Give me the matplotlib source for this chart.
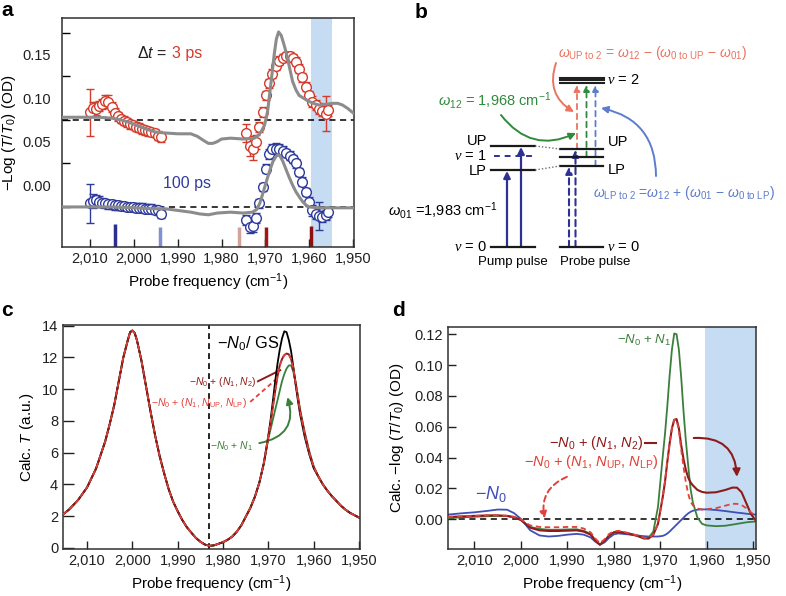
import numpy as np
import matplotlib
matplotlib.use('Agg')
import matplotlib.pyplot as plt
from matplotlib.patches import FancyArrowPatch

plt.rcParams['font.family'] = ['Liberation Sans', 'DejaVu Sans']
plt.rcParams['mathtext.fontset'] = 'custom'
plt.rcParams['mathtext.rm'] = 'Liberation Sans'
plt.rcParams['mathtext.it'] = 'Liberation Sans:italic'
plt.rcParams['mathtext.bf'] = 'Liberation Sans:bold'
plt.rcParams['mathtext.cal'] = 'Liberation Serif:italic'

# ---------------- data: panel a ----------------
f_grp1 = [2010.0, 2009.3, 2008.6, 2007.9, 2007.2, 2006.5, 2005.8, 2005.1, 2004.4, 2003.7, 2003.0, 2002.3,
          2001.6, 2000.9, 2000.2, 1999.5, 1998.8, 1998.1, 1997.4, 1996.7, 1996.0, 1995.3, 1994.6, 1993.9]
f_grp2 = [1974.4, 1973.6, 1972.9, 1972.1, 1971.4, 1970.6, 1969.8, 1969.1, 1968.4, 1967.6, 1966.8, 1966.1,
          1965.3, 1964.5, 1963.8, 1963.0, 1962.3, 1961.6, 1960.8, 1960.0, 1959.3, 1958.5, 1957.7, 1957.0,
          1956.3, 1955.8]
od3_grp1 = [0.084, 0.089, 0.088, 0.091, 0.093, 0.097, 0.096, 0.090, 0.083, 0.079, 0.076, 0.074,
            0.072, 0.070, 0.069, 0.067, 0.066, 0.064, 0.063, 0.062, 0.061, 0.060, 0.057, 0.055]
err3_grp1 = [0.027, 0.006, 0.007, 0.006, 0.006, 0.007, 0.007, 0.006, 0.006, 0.005, 0.005, 0.005,
             0.005, 0.005, 0.005, 0.005, 0.005, 0.005, 0.005, 0.005, 0.005, 0.005, 0.005, 0.005]
od3_grp2 = [0.060, 0.045, 0.041, 0.050, 0.067, 0.084, 0.103, 0.117, 0.128, 0.137, 0.143, 0.146,
            0.148, 0.148, 0.146, 0.142, 0.134, 0.124, 0.113, 0.103, 0.096, 0.092, 0.088, 0.085,
            0.082, 0.086]
err3_grp2 = [0.010, 0.012, 0.012, 0.008, 0.006, 0.006, 0.005, 0.005, 0.005, 0.005, 0.005, 0.005,
             0.005, 0.005, 0.005, 0.005, 0.005, 0.005, 0.005, 0.005, 0.006, 0.006, 0.006, 0.006,
             0.020, 0.006]
od100_grp1 = [-0.021, -0.018, -0.017, -0.019, -0.020, -0.021, -0.022, -0.022, -0.023, -0.023, -0.024, -0.024,
              -0.025, -0.025, -0.025, -0.026, -0.026, -0.026, -0.027, -0.027, -0.027, -0.028, -0.029, -0.033]
err100_grp1 = [0.022, 0.008, 0.006, 0.006, 0.005, 0.005, 0.005, 0.005, 0.005, 0.005, 0.005, 0.005,
               0.005, 0.005, 0.005, 0.005, 0.005, 0.005, 0.005, 0.005, 0.005, 0.005, 0.005, 0.005]
od100_grp2 = [-0.040, -0.048, -0.047, -0.038, -0.021, -0.002, 0.019, 0.036, 0.041, 0.042, 0.041, 0.039,
              0.037, 0.034, 0.030, 0.025, 0.015, 0.004, -0.008, -0.019, -0.029, -0.033, -0.035, -0.036,
              -0.034, -0.031]
err100_grp2 = [0.006, 0.007, 0.007, 0.006, 0.005, 0.005, 0.005, 0.006, 0.006, 0.006, 0.006, 0.006,
               0.005, 0.005, 0.005, 0.005, 0.005, 0.005, 0.005, 0.005, 0.006, 0.006, 0.016, 0.006,
               0.006, 0.006]
fit3_f = [2016.4, 2012, 2008, 2005, 2003, 2001, 1999, 1997, 1995, 1993, 1990, 1987, 1985.5, 1984, 1983,
          1982, 1981, 1980, 1978, 1975, 1972.5, 1971.5, 1970.8, 1970.2, 1969.5, 1968.7, 1968, 1967.5,
          1967, 1966.4, 1965.8, 1965.3, 1964.5, 1963.8, 1963, 1962.3, 1961, 1960, 1958.5, 1957.7,
          1956, 1954.7, 1953.5, 1952.4, 1951.2, 1950]
fit3_od = [0.078, 0.078, 0.078, 0.077, 0.075, 0.072, 0.068, 0.064, 0.061, 0.060, 0.059, 0.059, 0.056,
           0.051, 0.048, 0.048, 0.050, 0.053, 0.054, 0.053, 0.054, 0.058, 0.063, 0.069, 0.085, 0.119,
           0.150, 0.168, 0.176, 0.172, 0.162, 0.153, 0.135, 0.119, 0.109, 0.103, 0.099, 0.096, 0.093,
           0.092, 0.093, 0.094, 0.094, 0.092, 0.088, 0.083]
fit100_f = [2016.4, 2010, 2005, 2000, 1996, 1993, 1990, 1987, 1985, 1983, 1981, 1978, 1975, 1973, 1972,
            1971.3, 1970.5, 1969.8, 1969, 1968.3, 1967.6, 1967.1, 1966.6, 1966, 1965.3, 1964.5, 1963.8,
            1963, 1962.2, 1961.5, 1960.7, 1960, 1958, 1955, 1952, 1950]
fit100_od = [-0.025, -0.025, -0.025, -0.026, -0.027, -0.027, -0.029, -0.031, -0.033, -0.034, -0.032,
             -0.031, -0.032, -0.031, -0.028, -0.021, -0.008, 0.004, 0.017, 0.027, 0.033, 0.035, 0.033,
             0.027, 0.018, 0.008, 0.000, -0.008, -0.014, -0.019, -0.023, -0.025, -0.026, -0.026,
             -0.026, -0.026]
baseline_3ps = 0.075
baseline_100ps = -0.025
mark_f = [2004.3, 1994.0, 1976.1, 1969.8, 1959.6]
mark_top = [-0.0448, -0.048, -0.048, -0.048, -0.047]
mark_colors = ['#2b2f8f', '#8090d0', '#d2a39c', '#a01515', '#8b1010']
shade_a = (1959.5, 1954.8)

# ---------------- data: panel c ----------------
c_f_common_left = [2015.3, 2014, 2012, 2010, 2008, 2006, 2005, 2004, 2003, 2002, 2001, 2000.5, 2000, 1999.5,
                   1999, 1998, 1997, 1996, 1995, 1994, 1993, 1992, 1991, 1990, 1989, 1988, 1987, 1986,
                   1985, 1984, 1983, 1982, 1981, 1980, 1979, 1978, 1977, 1976]
c_T_common_left = [2.1, 2.4, 3.0, 3.8, 5.0, 6.7, 7.8, 9.0, 10.5, 12.0, 13.1, 13.6, 13.7, 13.55, 13.1, 11.8,
                   10.2, 8.6, 7.1, 5.8, 4.7, 3.7, 2.9, 2.3, 1.75, 1.3, 0.95, 0.62, 0.38, 0.2, 0.12, 0.15,
                   0.25, 0.35, 0.5, 0.7, 1.0, 1.4]
c_f_peak = [1975, 1974, 1973, 1972, 1971, 1970.5, 1970, 1969.5, 1969, 1968.5, 1968, 1967.5, 1967, 1966.5,
            1966, 1965.5, 1965, 1964.5, 1964, 1963.5, 1963, 1962, 1961, 1960]
c_T_gs = [1.95, 2.5, 3.2, 4.1, 5.35, 6.2, 7.1, 8.1, 9.3, 10.5, 11.6, 12.5, 13.2, 13.65, 13.6, 13.1, 12.4,
          11.4, 10.3, 9.3, 8.4, 7.0, 5.9, 5.0]
c_T_n1n2 = [1.95, 2.5, 3.2, 4.1, 5.35, 6.2, 7.05, 7.9, 8.9, 9.9, 10.8, 11.5, 11.9, 12.15, 12.25, 12.2, 11.9,
            11.3, 10.4, 9.5, 8.6, 7.2, 6.0, 5.1]
c_T_nupnlp = [1.95, 2.5, 3.2, 4.1, 5.35, 6.2, 7.05, 7.9, 8.9, 9.9, 10.8, 11.5, 11.9, 12.15, 12.25, 12.2,
              11.9, 11.3, 10.4, 9.5, 8.6, 7.2, 6.0, 5.1]
c_T_n1 = [1.95, 2.5, 3.2, 4.1, 5.3, 6.1, 6.9, 7.5, 8.1, 8.7, 9.3, 9.9, 10.5, 10.95, 11.3, 11.5, 11.5, 11.1,
          10.4, 9.6, 8.7, 7.3, 6.1, 5.1]
c_f_common_right = [1959, 1958, 1957, 1956, 1955, 1954, 1953, 1952, 1951, 1950]
c_T_common_right = [4.5, 4.0, 3.6, 3.25, 2.95, 2.65, 2.4, 2.2, 2.05, 1.9]
omega01 = 1983

# ---------------- data: panel d ----------------
d_f = [2015.7, 2013, 2010, 2007, 2005, 2003, 2001.5, 2000, 1999, 1998, 1996, 1994, 1992, 1990, 1988, 1986.5,
       1985, 1984, 1983, 1982, 1981, 1980, 1979, 1977, 1975, 1973.5, 1972.5, 1971.5, 1970.5, 1969.5,
       1969, 1968.5, 1968, 1967.5, 1967, 1966.5, 1966, 1965.5, 1965, 1964.5, 1964, 1963.5, 1963, 1962,
       1961, 1960, 1958, 1956, 1954.5, 1953.5, 1952.5, 1951.5, 1950.5, 1949.4]
d_n0 = [0.0030, 0.0038, 0.0045, 0.0055, 0.0063, 0.0062, 0.0040, 0.0002, -0.0035, -0.0072, -0.0105, -0.0112,
        -0.0108, -0.0100, -0.0095, -0.0100, -0.0118, -0.0145, -0.0165, -0.0150, -0.0120, -0.0098, -0.0092,
        -0.0098, -0.0105, -0.0110, -0.0112, -0.0112, -0.0112, -0.0108, -0.0102, -0.0093, -0.0080, -0.0065,
        -0.0050, -0.0035, -0.0020, -0.0005, 0.0010, 0.0025, 0.0038, 0.0048, 0.0055, 0.0062, 0.0064, 0.0064,
        0.0060, 0.0053, 0.0047, 0.0043, 0.0040, 0.0036, 0.0033, 0.0030]
d_n1 = [0.0008, 0.0012, 0.0016, 0.0020, 0.0022, 0.0020, 0.0012, -0.0005, -0.0030, -0.0050, -0.0063, -0.0068,
        -0.0068, -0.0066, -0.0065, -0.0075, -0.0095, -0.0135, -0.0165, -0.0140, -0.0105, -0.0085, -0.0080,
        -0.0090, -0.0105, -0.0122, -0.0120, -0.0080, 0.0080, 0.0400, 0.0550, 0.0730, 0.0930, 0.1100,
        0.1205, 0.1200, 0.1100, 0.0920, 0.0700, 0.0510, 0.0350, 0.0200, 0.0110, 0.0010, -0.0030, -0.0040,
        -0.0045, -0.0042, -0.0035, -0.0030, -0.0025, -0.0020, -0.0017, -0.0015]
d_n1n2 = [0.0015, 0.0018, 0.0022, 0.0025, 0.0025, 0.0022, 0.0014, -0.0005, -0.0030, -0.0055, -0.0072, -0.0076,
          -0.0076, -0.0074, -0.0072, -0.0080, -0.0100, -0.0138, -0.0165, -0.0140, -0.0105, -0.0085, -0.0082,
          -0.0092, -0.0108, -0.0125, -0.0125, -0.0100, -0.0030, 0.0140, 0.0240, 0.0370, 0.0490, 0.0590,
          0.0645, 0.0650, 0.0590, 0.0480, 0.0390, 0.0320, 0.0270, 0.0240, 0.0220, 0.0190, 0.0177, 0.0172,
          0.0175, 0.0190, 0.0205, 0.0205, 0.0175, 0.0105, 0.0035, -0.0012]
d_nupnlp = [0.0015, 0.0018, 0.0022, 0.0025, 0.0025, 0.0022, 0.0016, 0.0000, -0.0022, -0.0040, -0.0050, -0.0052,
            -0.0052, -0.0050, -0.0050, -0.0060, -0.0085, -0.0125, -0.0155, -0.0130, -0.0095, -0.0078,
            -0.0075, -0.0088, -0.0105, -0.0120, -0.0122, -0.0098, -0.0030, 0.0140, 0.0240, 0.0370, 0.0490,
            0.0590, 0.0645, 0.0645, 0.0580, 0.0450, 0.0340, 0.0240, 0.0165, 0.0115, 0.0090, 0.0070, 0.0063,
            0.0065, 0.0072, 0.0088, 0.0100, 0.0100, 0.0092, 0.0072, 0.0045, 0.0020]
shade_d = (1960.4, 1949.4)

# ---------------- colours ----------------
RED_PT = '#d33b2c'
BLUE_PT = '#2f3b9c'
GRAY_FIT = '#8c8c8c'
SHADE = '#c6dcf2'
DARKRED = '#8e1b1b'
BRIGHTRED = '#e2403a'
GREEN = '#3b7f3b'
BLUE_N0 = '#3f4fb5'
NAVY = '#2e3192'
SALMON = '#ea7460'
BGREEN = '#2f8a3c'
LBLUE = '#5d7ccb'

fig = plt.figure(figsize=(7.86, 5.96), dpi=100)


def px_axes(l, t, r, b):
    return fig.add_axes([l / 786, 1 - b / 596, (r - l) / 786, (b - t) / 596])


def style(ax):
    for s in ax.spines.values():
        s.set_linewidth(1.1)
        s.set_color('#303030')
    ax.tick_params(direction='in', length=6, width=1.0, labelsize=10.5, colors='#202020')
    ax.tick_params(which='minor', direction='in', length=6, width=1.0)


xt = [2010, 2000, 1990, 1980, 1970, 1960, 1950]
xtl = ['2,010', '2,000', '1,990', '1,980', '1,970', '1,960', '1,950']

# ---------------- panel a ----------------
axA = px_axes(62, 18, 354, 247)
style(axA)
axA.set_xlim(2016.4, 1949.8)
axA.set_ylim(-0.071, 0.192)
axA.axvspan(*shade_a, color=SHADE, lw=0, zorder=0)
axA.axhline(baseline_3ps, color='black', ls=(0, (4, 3)), lw=1.1, zorder=1)
axA.axhline(baseline_100ps, color='black', ls=(0, (4, 3)), lw=1.1, zorder=1)
ekw = dict(fmt='o', mfc='white', ms=7, mew=1.0, capsize=3, elinewidth=1.0, capthick=1.0, zorder=3)
for f, v, e in [(f_grp1, od3_grp1, err3_grp1), (f_grp2, od3_grp2, err3_grp2)]:
    axA.errorbar(f, v, yerr=e, mec=RED_PT, ecolor=RED_PT, **ekw)
for f, v, e in [(f_grp1, od100_grp1, err100_grp1), (f_grp2, od100_grp2, err100_grp2)]:
    axA.errorbar(f, v, yerr=e, mec=BLUE_PT, ecolor=BLUE_PT, **ekw)
axA.plot(fit3_f, fit3_od, color=GRAY_FIT, lw=2.2, zorder=4)
axA.plot(fit100_f, fit100_od, color=GRAY_FIT, lw=2.2, zorder=4)
axA.vlines(mark_f, -0.071, mark_top, colors=mark_colors, lw=2.5, zorder=2)
axA.set_xticks(xt)
axA.set_xticklabels(xtl)
axA.set_yticks([0.0, 0.05, 0.10, 0.15])
axA.set_yticklabels(['0.00', '0.05', '0.10', '0.15'])
axA.set_yticks([-0.025, 0.025, 0.075, 0.125, 0.175], minor=True)
axA.tick_params(axis='y', which='major', length=0, pad=8)
axA.set_xlabel(r'Probe frequency (cm$^{-1}$)', fontsize=11)
axA.set_ylabel(r'$-$Log ($T$/$T_0$) (OD)', fontsize=11)
axA.yaxis.set_label_coords(-0.152, 0.5)
t_dt = axA.text(1999.2, 0.146, r'$\Delta t$ =', fontsize=11.5, color='#202020', va='baseline')
axA.annotate('3 ps', xy=(1, 0), xycoords=t_dt, xytext=(3, 0), textcoords='offset points',
             fontsize=11.5, color=RED_PT, va='bottom', ha='left')
axA.text(1993.3, 0.002, '100 ps', fontsize=11.5, color=BLUE_PT, va='center')

# ---------------- panel c ----------------
axC = px_axes(63, 325, 360, 549)
style(axC)
axC.set_xlim(2015.3, 1949.8)
axC.set_ylim(-0.08, 14.05)
axC.axvline(omega01, color='black', ls=(0, (3.5, 2.5)), lw=1.2, zorder=1)
cf = c_f_common_left + c_f_peak + c_f_common_right
axC.plot(cf, c_T_common_left + c_T_gs + c_T_common_right, color='black', lw=1.3, zorder=3)
axC.plot(cf, c_T_common_left + c_T_n1 + c_T_common_right, color=GREEN, lw=1.3, zorder=2)
axC.plot(cf, c_T_common_left + c_T_n1n2 + c_T_common_right, color=DARKRED, lw=1.4, zorder=4)
axC.plot(cf, c_T_common_left + c_T_nupnlp + c_T_common_right, color=BRIGHTRED, lw=1.2,
         ls=(0, (3, 2)), zorder=5)
axC.set_xticks(xt)
axC.set_xticklabels(xtl)
axC.set_yticks([0, 2, 4, 6, 8, 10, 12, 14])
axC.tick_params(axis='y', length=8)
axC.set_xlabel(r'Probe frequency (cm$^{-1}$)', fontsize=11)
axC.set_ylabel(r'Calc. $T$ (a.u.)', fontsize=11)
axC.text(1981.4, 12.9, '\u2212$N_0$/ GS', fontsize=11.8, va='center', ha='left')
axC.text(1972.6, 10.45, '\u2212$N_0$ + ($N_1$, $N_2$)', fontsize=7.5, color=DARKRED, ha='right', va='center')
axC.plot([1972.3, 1967.4], [10.5, 11.2], color=DARKRED, lw=1.4)
axC.text(1974.8, 9.1, '\u2212$N_0$ + ($N_1$, $N_{\\mathrm{UP}}$, $N_{\\mathrm{LP}}$)', fontsize=7.5,
         color=BRIGHTRED, ha='right', va='center')
axC.plot([1974.0, 1968.0], [9.2, 10.7], color=BRIGHTRED, lw=1.3, ls=(0, (2.5, 1.8)))
axC.text(1973.5, 6.4, '\u2212$N_0$ + $N_1$', fontsize=7.5, color=GREEN, ha='right', va='center')
axC.annotate('', xy=(1965.8, 9.5), xytext=(1972.0, 6.6),
             arrowprops=dict(arrowstyle='-|>', color=GREEN, lw=1.4, mutation_scale=10,
                             connectionstyle='arc3,rad=0.55', shrinkA=0, shrinkB=0))

# ---------------- panel d ----------------
axD = px_axes(448, 327, 756, 549)
style(axD)
axD.set_xlim(2015.7, 1949.4)
axD.set_ylim(-0.0193, 0.1247)
axD.axvspan(*shade_d, color=SHADE, lw=0, zorder=0)
axD.axhline(0, color='black', ls=(0, (4, 3)), lw=1.1, zorder=1)
axD.plot(d_f, d_n0, color=BLUE_N0, lw=1.3, zorder=2)
axD.plot(d_f, d_n1, color=GREEN, lw=1.3, zorder=3)
axD.plot(d_f, d_n1n2, color=DARKRED, lw=1.5, zorder=4)
axD.plot(d_f, d_nupnlp, color=BRIGHTRED, lw=1.3, ls=(0, (3, 2)), zorder=5)
axD.set_xticks(xt)
axD.set_xticklabels(xtl)
axD.set_yticks([0.0, 0.02, 0.04, 0.06, 0.08, 0.10, 0.12])
axD.set_yticklabels(['0.00', '0.02', '0.04', '0.06', '0.08', '0.10', '0.12'])
axD.set_xlabel(r'Probe frequency (cm$^{-1}$)', fontsize=11)
axD.set_ylabel(r'Calc. $-$log ($T$/$T_0$) (OD)', fontsize=11)
axD.yaxis.set_label_coords(-0.135, 0.5)
axD.text(2009.8, 0.0165, '\u2212$N_0$', fontsize=13, color=BLUE_N0, va='center')
axD.text(1979.3, 0.1163, '\u2212$N_0$ + $N_1$', fontsize=9.5, color=GREEN, va='center')
axD.text(1973.7, 0.0495, '\u2212$N_0$ + ($N_1$, $N_2$)', fontsize=10.5, color=DARKRED, ha='right', va='center')
axD.plot([1973.2, 1971.0], [0.0497, 0.0497], color=DARKRED, lw=1.5)
axD.annotate('', xy=(1953.5, 0.0275), xytext=(1962.8, 0.0527),
             arrowprops=dict(arrowstyle='-|>', color=DARKRED, lw=1.5, mutation_scale=11,
                             connectionstyle='arc3,rad=-0.5', shrinkA=0, shrinkB=0))
axD.text(1970.4, 0.0372, '\u2212$N_0$ + ($N_1$, $N_{\\mathrm{UP}}$, $N_{\\mathrm{LP}}$)', fontsize=10.5,
         color=BRIGHTRED, ha='right', va='center')
axD.annotate('', xy=(1994.9, 0.0005), xytext=(1990.1, 0.0275),
             arrowprops=dict(arrowstyle='-|>', color=BRIGHTRED, lw=1.4, ls=(0, (3, 2)), mutation_scale=10,
                             connectionstyle='arc3,rad=0.4', shrinkA=0, shrinkB=0))

# ---------------- overlay: panel b and letters ----------------
ov = fig.add_axes([0, 0, 1, 1], zorder=10)
ov.set_xlim(0, 786)
ov.set_ylim(596, 0)
ov.axis('off')
ov.patch.set_alpha(0)

for s, x, y in [('a', 1, 10), ('b', 415, 13), ('c', 1, 311), ('d', 392, 311)]:
    ov.text(x, y, s, fontsize=15, fontweight='bold', ha='left', va='center')

# energy levels
lvl_left = dict(UP=146, v1=156, LP=170, v0=247)
lvl_right = dict(UP=149, v1=157, LP=166, v0=247)
xl0, xl1 = 491, 535
xr0, xr1 = 560, 603
for k in ['UP', 'LP', 'v0']:
    ov.plot([xl0, xl1], [lvl_left[k]] * 2, color='#1a1a1a', lw=1.6)
ov.plot([xl0 + 3, xl1], [lvl_left['v1']] * 2, color=NAVY, lw=1.4, ls=(0, (3, 2.5)))
for k in ['UP', 'v1', 'LP', 'v0']:
    ov.plot([xr0, xr1], [lvl_right[k]] * 2, color='#1a1a1a', lw=1.6)
for yy in [77.5, 80, 82.5]:
    ov.plot([xr0, xr1 + 1], [yy, yy], color='#202020', lw=1.5)
ov.plot([xl1, xr0], [lvl_left['UP'], lvl_right['UP']], color='#707070', lw=1.0, ls=(0, (1, 1.5)))
ov.plot([xl1, xr0], [lvl_left['LP'], lvl_right['LP']], color='#707070', lw=1.0, ls=(0, (1, 1.5)))


def arrow(p0, p1, color, ls='-', rad=0.0, lw=1.4, ms=10):
    a = FancyArrowPatch(p0, p1, arrowstyle='-|>', mutation_scale=ms, color=color, lw=lw, linestyle=ls,
                        connectionstyle='arc3,rad=%s' % rad, shrinkA=0, shrinkB=0)
    ov.add_patch(a)


arrow((507, 247), (507, lvl_left['LP'] + 1), NAVY, lw=1.6)
arrow((521, 247), (521, lvl_left['UP'] + 1), NAVY, lw=1.6)
arrow((569, 247), (569, lvl_right['LP'] + 1), NAVY, ls=(0, (3, 2)), lw=1.5)
arrow((575.5, 247), (575.5, lvl_right['UP'] + 1), NAVY, ls=(0, (3, 2)), lw=1.5)
arrow((577, lvl_right['UP']), (577, 85), SALMON, ls=(0, (3, 2.5)), lw=1.3, ms=9)
arrow((586.5, lvl_right['v1']), (586.5, 85), BGREEN, ls=(0, (3, 2.5)), lw=1.3, ms=9)
arrow((595.5, lvl_right['LP']), (595.5, 85), LBLUE, ls=(0, (3, 2.5)), lw=1.3, ms=9)

arrow((556, 63), (574, 112), SALMON, rad=0.4, lw=1.4)
arrow((501, 115), (576, 133), BGREEN, rad=0.4, lw=1.4)
arrow((656, 176), (601, 108), LBLUE, rad=0.4, lw=1.4)

fs = 10.5
ov.text(487, 141, 'UP', fontsize=fs, ha='right', va='center')
ov.text(487, 156, r'$\mathcal{v}$ = 1', fontsize=fs, ha='right', va='center')
ov.text(487, 171, 'LP', fontsize=fs, ha='right', va='center')
ov.text(487, lvl_left['v0'], r'$\mathcal{v}$ = 0', fontsize=fs, ha='right', va='center')
ov.text(608, 142, 'UP', fontsize=fs, ha='left', va='center')
ov.text(608, 170, 'LP', fontsize=fs, ha='left', va='center')
ov.text(607, 80, r'$\mathcal{v}$ = 2', fontsize=fs, ha='left', va='center')
ov.text(607, lvl_right['v0'], r'$\mathcal{v}$ = 0', fontsize=fs, ha='left', va='center')
ov.text(513, 262, 'Pump pulse', fontsize=9.5, ha='center', va='center')
ov.text(595, 262, 'Probe pulse', fontsize=9.5, ha='center', va='center')
ov.text(497, 210, r'$\omega_{01}$ =1,983 cm$^{-1}$', fontsize=10.5, ha='right', va='center')
ov.text(653, 53, r'$\omega_{\mathrm{UP\ to\ 2}}$ = $\omega_{12}$ $-$ ($\omega_{0\ \mathrm{to\ UP}}$ $-$ $\omega_{01}$)',
        fontsize=10, ha='center', va='center', color=SALMON)
ov.text(438, 100, r'$\omega_{12}$ = 1,968 cm$^{-1}$', fontsize=10.5, ha='left', va='center', color=BGREEN)
ov.text(593, 193, r'$\omega_{\mathrm{LP\ to\ 2}}$ =$\omega_{12}$ + ($\omega_{01}$ $-$ $\omega_{0\ \mathrm{to\ LP}}$)',
        fontsize=10, ha='left', va='center', color=LBLUE)

fig.savefig('out.png', dpi=100)
